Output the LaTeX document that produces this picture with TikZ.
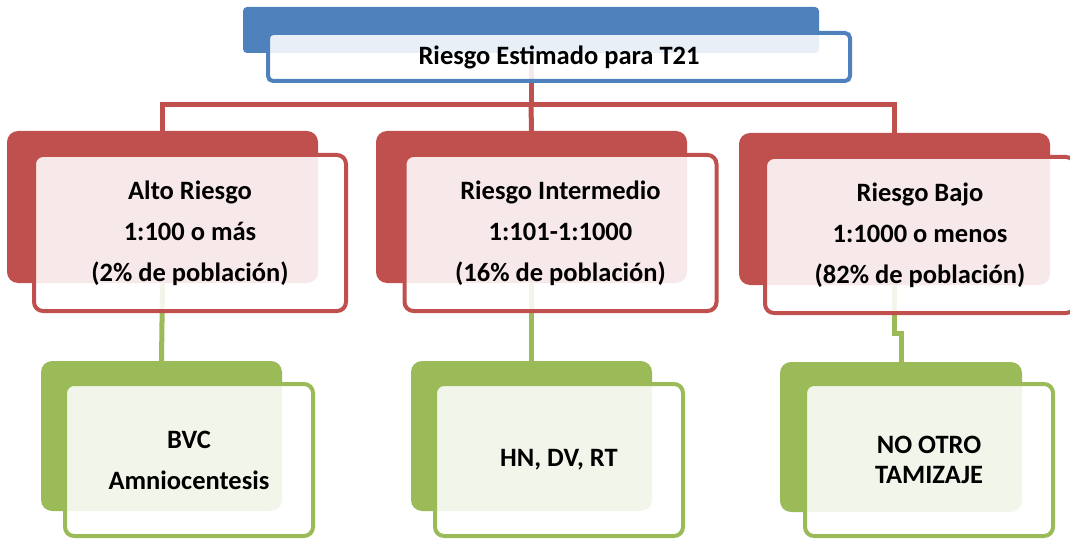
\documentclass[tikz,border=0pt]{standalone}
\usepackage{fontspec}
\setmainfont{Carlito}
\usetikzlibrary{positioning}
\definecolor{azul}{HTML}{4F81BD}
\definecolor{rojo}{HTML}{C0504D}
\definecolor{verde}{HTML}{9BBB59}

\begin{document}
\begin{tikzpicture}[x=1pt, y=1pt,
    back/.style={rectangle, rounded corners=11pt, inner sep=0pt, draw=none},
    front/.style={rectangle, rounded corners=9pt, inner sep=0pt, line width=4pt,
      fill=white, fill opacity=0.88, text opacity=1, text=black, align=center,
      font=\fontsize{26.5}{41}\selectfont\bfseries},
    redline/.style={rojo, line width=5pt},
    greenline/.style={verde, line width=5pt}]
  \clip (0,0) rectangle (1070,-540);

  % back boxes
  \node[back, fill=azul, rounded corners=4pt, minimum width=576pt, minimum height=46pt] (topback) at (531,-30) {};
  \node[back, fill=rojo, minimum width=311pt, minimum height=152pt] (rb1) at (162.5,-207) {};
  \node[back, fill=rojo, minimum width=311pt, minimum height=152pt] (rb2) at (531.5,-207) {};
  \node[back, fill=rojo, minimum width=311pt, minimum height=152pt] (rb3) at (894.5,-209) {};
  \node[back, fill=verde, minimum width=241pt, minimum height=150pt] (gb1) at (161.5,-436) {};
  \node[back, fill=verde, minimum width=241pt, minimum height=150pt] (gb2) at (531.5,-436) {};
  \node[back, fill=verde, minimum width=242pt, minimum height=150pt] (gb3) at (901,-437) {};

  % connectors
  \coordinate (bus) at (531,-105);
  \draw[redline] (topback.south) -- (bus);
  \draw[redline] (rb1.north) |- (bus) -| (rb3.north);
  \draw[redline] (bus) -- (rb2.north);
  \draw[greenline] (rb1.south) -- (gb1.north);
  \draw[greenline] (rb2.south) -- (gb2.north);
  \draw[greenline] (rb3.south) -- ++(0,-48) -| (gb3.north);

  % front boxes
  \node[front, draw=azul, rounded corners=5pt, minimum width=582pt, minimum height=48pt] (topfront) at (559,-57) {Riesgo Estimado para T21};
  \node[front, draw=rojo, minimum width=312pt, minimum height=156pt] (rf1) at (190,-233) {Alto Riesgo\\1:100 o más\\(2\% de población)};
  \node[front, draw=rojo, minimum width=312pt, minimum height=156pt] (rf2) at (560.5,-233) {Riesgo Intermedio\\1:101-1:1000\\(16\% de población)};
  \node[front, draw=rojo, minimum width=310pt, minimum height=156pt] (rf3) at (920,-235) {Riesgo Bajo\\1:1000 o menos\\(82\% de población)};
  \node[front, draw=verde, minimum width=248pt, minimum height=152pt] (gf1) at (189,-460) {BVC\\Amniocentesis};
  \node[front, draw=verde, minimum width=248pt, minimum height=152pt] (gf2) at (559,-460) {HN, DV, RT};
  \node[front, draw=verde, minimum width=248pt, minimum height=152pt, font=\fontsize{26.5}{30}\selectfont\bfseries] (gf3) at (929,-460) {NO OTRO\\TAMIZAJE};
\end{tikzpicture}
\end{document}
